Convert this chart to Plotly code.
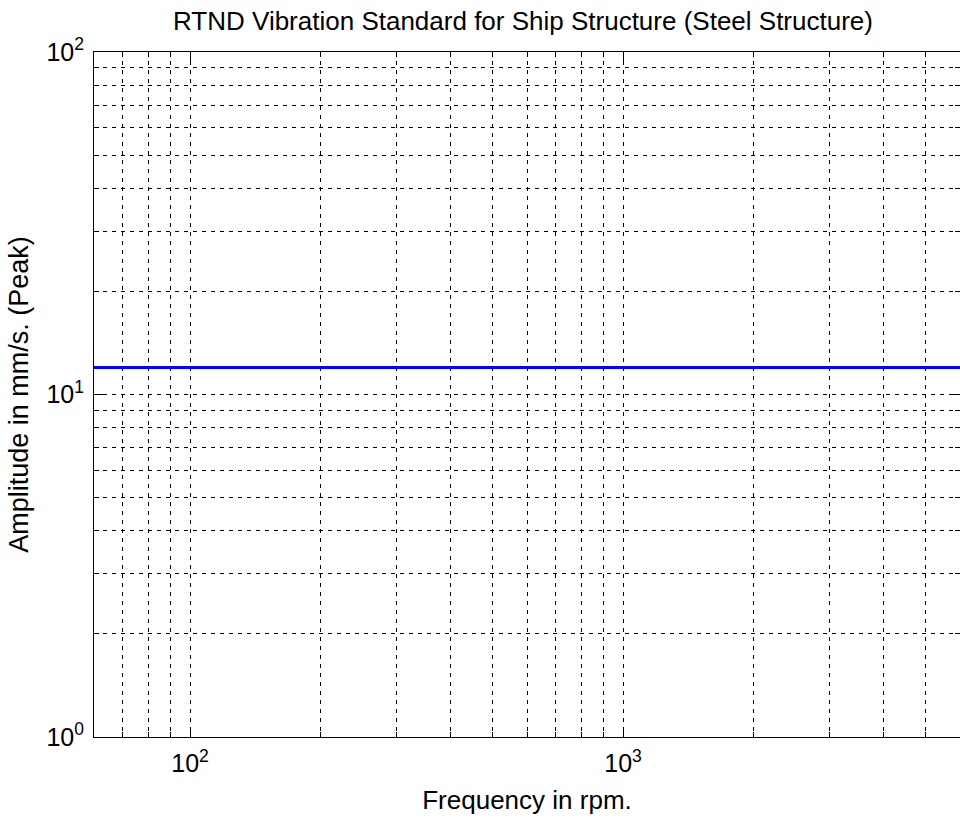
import plotly.graph_objects as go
import math

# Data
freq_rpm = [60, 6000]
amplitude = [12, 12]

x_major = [100, 1000]
x_major_text = ["10<sup>2</sup>", "10<sup>3</sup>"]
x_minor = [70, 80, 90, 200, 300, 400, 500, 600, 700, 800, 900, 2000, 3000, 4000, 5000]
y_major = [1, 10, 100]
y_major_text = ["10<sup>0</sup>", "10<sup>1</sup>", "10<sup>2</sup>"]
y_minor = [2, 3, 4, 5, 6, 7, 8, 9, 20, 30, 40, 50, 60, 70, 80, 90]

title_text = "RTND Vibration Standard for Ship Structure (Steel Structure)"
x_title = "Frequency in rpm."
y_title = "Amplitude in mm/s. (Peak)"

FONT = "Liberation Sans, Arial, sans-serif"
FS = 25
DASH = "4px,5px"

fig = go.Figure()
fig.add_trace(go.Scatter(
    x=freq_rpm, y=amplitude, mode="lines",
    line=dict(color="#0000FF", width=3),
    showlegend=False, hoverinfo="skip",
))

axis_common = dict(
    type="log",
    showline=True, linecolor="black", linewidth=1, mirror="ticks",
    ticks="inside", ticklen=9, tickwidth=1, tickcolor="black",
    showgrid=True, gridcolor="black", gridwidth=1, griddash=DASH,
    zeroline=False,
    tickfont=dict(family=FONT, size=FS, color="black"),
)

fig.update_xaxes(
    **axis_common,
    range=[math.log10(60), math.log10(6000)],
    tickmode="array", tickvals=x_major, ticktext=x_major_text,
    ticklabelstandoff=4,
    minor=dict(tickmode="array", tickvals=x_minor, ticks="inside", ticklen=5,
               tickcolor="black", showgrid=True, gridcolor="black",
               gridwidth=1, griddash=DASH),
    title=dict(text=x_title, font=dict(family=FONT, size=26, color="black"), standoff=14),
)
fig.update_yaxes(
    **axis_common,
    range=[0, 2],
    tickmode="array", tickvals=y_major, ticktext=y_major_text,
    ticklabelstandoff=4,
    minor=dict(tickmode="array", tickvals=y_minor, ticks="inside", ticklen=5,
               tickcolor="black", showgrid=True, gridcolor="black",
               gridwidth=1, griddash=DASH),
    title=dict(text=y_title, font=dict(family=FONT, size=27, color="black"), standoff=10),
)

fig.update_layout(
    width=960, height=823,
    margin=dict(l=94, r=0, t=52, b=86),
    paper_bgcolor="white", plot_bgcolor="white",
    title=dict(text=title_text, x=523 / 960, xanchor="center",
               y=1 - 21 / 823, yanchor="middle",
               font=dict(family=FONT, size=26, color="black")),
)

fig.write_html("out.html")
